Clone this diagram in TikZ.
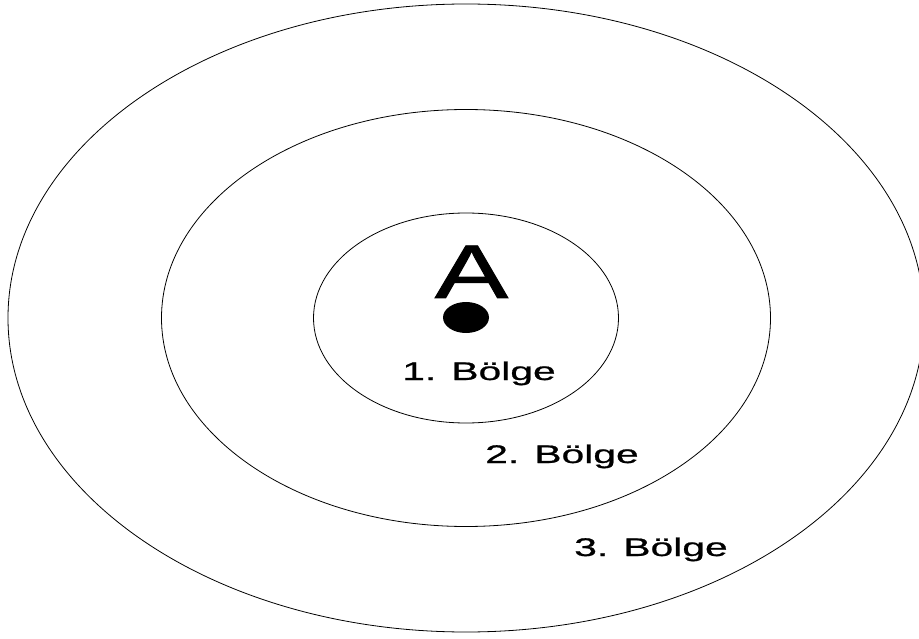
\documentclass[tikz,border=0pt]{standalone}
\usepackage{fontspec}
\setmainfont{Liberation Sans}
\newfontfamily\wideA[FakeStretch=1.45,FakeBold=1.2]{Liberation Sans}
\newfontfamily\wideL[FakeStretch=1.6,FakeBold=0.8]{Liberation Sans}
\begin{document}
\begin{tikzpicture}[x=1pt,y=-1pt,
  wave/.style={draw=black,line width=0.8pt},
  lbl/.style={inner sep=0pt,anchor=base,font=\wideL\fontsize{25.5}{25.5}\selectfont},
  bigA/.style={inner sep=0pt,anchor=base,font=\wideA\fontsize{76}{76}\selectfont}]
\useasboundingbox (0,0) rectangle (919,639);
\clip (0,0) rectangle (919,639);
\fill[white] (0,0) rectangle (919,639);
\coordinate (c) at (466,318);
\draw[wave] (c) ellipse [x radius=458, y radius=314];
\draw[wave] (c) ellipse [x radius=304.5, y radius=208.5];
\draw[wave] (c) ellipse [x radius=152.5, y radius=105];
\fill[black] (466,317.5) ellipse [x radius=23, y radius=15.5];
\node[bigA] (A) at (471.5,298) {A};
\node[lbl] (l1) at (479,380) {1. Bölge};
\node[lbl] (l2) at (562,463) {2. Bölge};
\node[lbl] (l3) at (651,556) {3. Bölge};
\end{tikzpicture}
\end{document}
